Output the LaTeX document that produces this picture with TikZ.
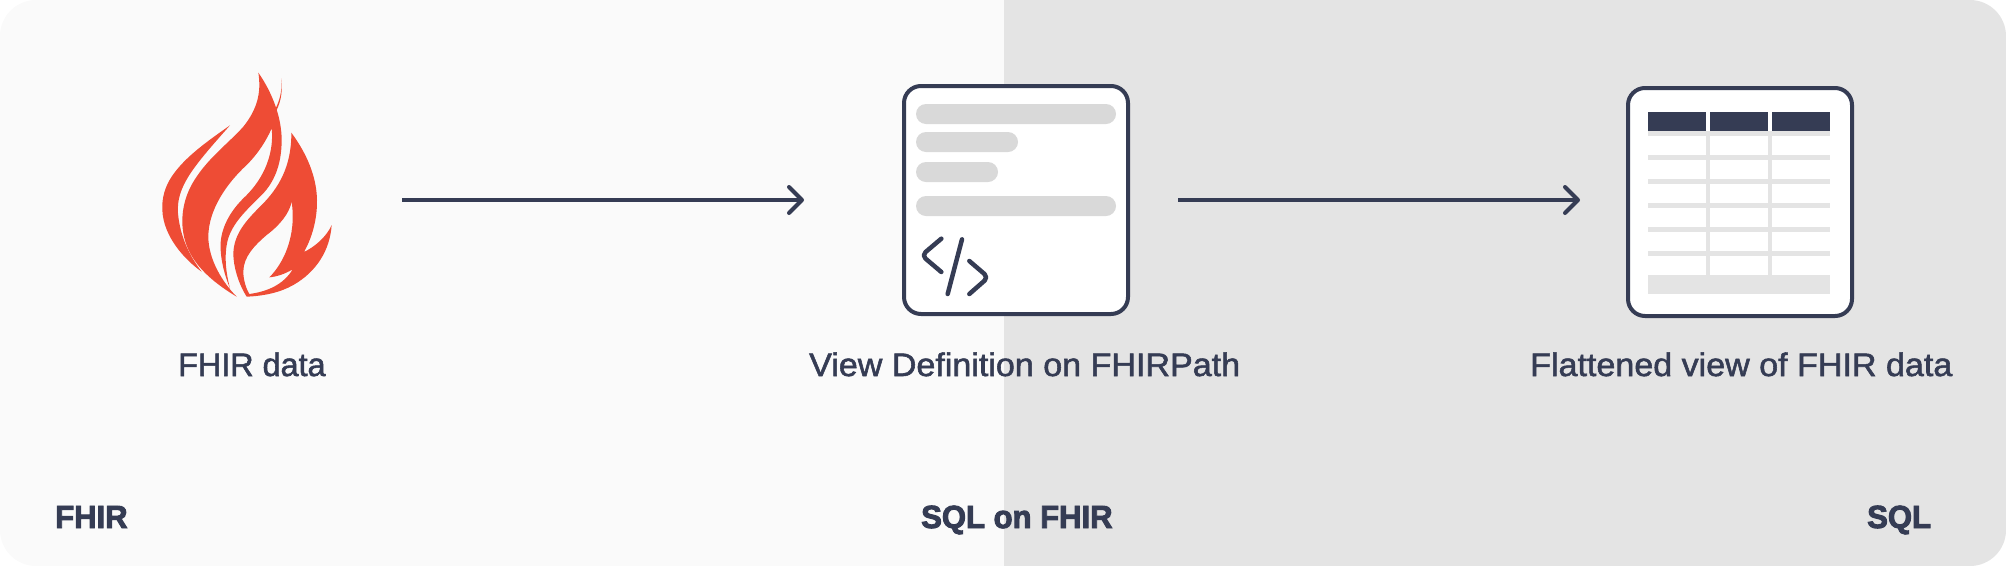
\documentclass[tikz,border=0pt]{standalone}
\usepackage{fontspec}
\usetikzlibrary{arrows.meta}
\setmainfont{Liberation Sans}
\newfontfamily\labfont[FakeBold=1.7,FakeStretch=1.048]{Liberation Sans}
\newfontfamily\labfontshort[FakeBold=1.7,FakeStretch=0.995]{Liberation Sans}
\newfontfamily\headfont[FakeBold=3,FakeStretch=0.97]{Liberation Sans Bold}
\definecolor{ink}{HTML}{353C54}
\definecolor{flame}{HTML}{EE4C35}
\definecolor{leftbg}{HTML}{FAFAFA}
\definecolor{rightbg}{HTML}{E4E4E4}
\definecolor{barc}{HTML}{D9D9D9}
\definecolor{rule}{HTML}{E4E4E4}
\tikzset{
  iconbox/.style={draw=ink,fill=white,line width=4pt,rounded corners=17pt,inner sep=0pt,minimum width=224pt,minimum height=228pt},
  flow/.style={draw=ink,line width=4pt,-{Straight Barb[length=13pt,width=26pt,round]}},
  lab/.style={anchor=base west,inner sep=0pt,text=ink,font=\labfont\fontsize{32.5}{36}\selectfont},
  labshort/.style={lab,font=\labfontshort\fontsize{32.5}{36}\selectfont},
  head/.style={anchor=base west,inner sep=0pt,text=ink,font=\headfont\fontsize{32}{36}\selectfont},
  bar/.style={fill=barc,rounded corners=10pt},
  codeline/.style={draw=ink,line width=4.5pt,line cap=round,line join=round},
}
\begin{document}
\begin{tikzpicture}[x=1pt,y=-1pt]
\useasboundingbox (0,0) rectangle (2006,566);
\begin{scope}
  \clip[rounded corners=36pt] (0,0) rectangle (2006,566);
  \fill[leftbg] (0,0) rectangle (1004,566);
  \fill[rightbg] (1004,0) rectangle (2006,566);
\end{scope}
% flame
\node[inner sep=0pt,minimum width=170pt,minimum height=230pt] (flamenode) at (247,200) {};
\begin{scope}[shift={(130,50)},x=0.33333pt,y=-0.33333pt]
  % left tongue
  \fill[flame] (300,226) .. controls (235,272) and (165,320) .. (125,380)
    .. controls (105,410) and (95,445) .. (97,480)
    .. controls (100,560) and (165,630) .. (215,665)
    .. controls (180,620) and (150,560) .. (144,490)
    .. controls (138,410) and (190,350) .. (300,226) -- cycle;
  % main body with thin strip
  \fill[flame] (385,68) .. controls (395,130) and (380,180) .. (340,230)
    .. controls (300,275) and (240,320) .. (200,380)
    .. controls (165,430) and (150,490) .. (160,550)
    .. controls (172,620) and (220,680) .. (320,740)
    .. controls (280,700) and (235,630) .. (235,560)
    .. controls (235,480) and (290,400) .. (350,345)
    .. controls (385,310) and (410,270) .. (425,235)
    .. controls (432,300) and (410,380) .. (340,445)
    .. controls (290,495) and (268,550) .. (272,600)
    .. controls (275,650) and (290,690) .. (300,715)
    .. controls (288,670) and (282,620) .. (292,575)
    .. controls (305,520) and (350,480) .. (395,435)
    .. controls (440,390) and (455,330) .. (455,270)
    .. controls (455,200) and (425,125) .. (385,68) -- cycle;
  % wisp
  \fill[flame] (453,85) .. controls (460,130) and (450,165) .. (432,195)
    .. controls (425,210) and (422,220) .. (420,226)
    .. controls (422,210) and (425,200) .. (432,185)
    .. controls (448,155) and (458,125) .. (453,85) -- cycle;
  % right tongue with inner hole
  \fill[flame,even odd rule] (484,248) .. controls (530,310) and (560,380) .. (561,450)
    .. controls (562,510) and (545,565) .. (522,606)
    .. controls (555,590) and (590,560) .. (605,525)
    .. controls (600,600) and (560,665) .. (490,705)
    .. controls (450,728) and (400,738) .. (350,740)
    .. controls (325,700) and (310,650) .. (310,610)
    .. controls (312,550) and (350,510) .. (395,465)
    .. controls (445,415) and (485,350) .. (484,248) -- cycle
    (485,455) .. controls (478,490) and (450,525) .. (410,555)
    .. controls (375,585) and (340,620) .. (340,665)
    .. controls (340,690) and (348,715) .. (358,732)
    .. controls (410,725) and (460,705) .. (488,658)
    .. controls (465,672) and (440,680) .. (418,682)
    .. controls (460,640) and (500,560) .. (485,455) -- cycle;
\end{scope}
% view definition box
\node[iconbox] (viewbox) at (1016,200) {};
\fill[bar] (916,104) rectangle (1116,124);
\fill[bar] (916,132) rectangle (1018,152);
\fill[bar] (916,162) rectangle (998,182);
\fill[bar] (916,196) rectangle (1116,216);
\begin{scope}[shift={(880,70)},x=0.33333pt,y=-0.33333pt]
  \draw[codeline,rounded corners=5pt] (184,506) -- (125,556) -- (184,606);
  \draw[codeline] (246,508) -- (203,672);
  \draw[codeline,rounded corners=5pt] (268,573) -- (325,622) -- (268,672);
\end{scope}
% table box
\node[iconbox] (tablebox) at (1740,202) {};
\fill[rule] (1648,131) rectangle (1830,136);
\fill[rule] (1648,155.3) rectangle (1830,160);
\fill[rule] (1648,179.3) rectangle (1830,184);
\fill[rule] (1648,203.3) rectangle (1830,208);
\fill[rule] (1648,227.3) rectangle (1830,232);
\fill[rule] (1648,251.3) rectangle (1830,256);
\fill[rule] (1648,275.3) rectangle (1830,294);
\fill[rule] (1706,131) rectangle (1710,276);
\fill[rule] (1768,131) rectangle (1772,276);
\fill[ink] (1648,112) rectangle (1706,131.3);
\fill[ink] (1710,112) rectangle (1768,131.3);
\fill[ink] (1772,112) rectangle (1830,131.3);
% connectors
\draw[flow,shorten <=70pt,shorten >=98pt] (flamenode.east) -- (viewbox.west);
\draw[flow,shorten <=48pt,shorten >=46pt] (viewbox.east) -- (tablebox.west |- viewbox.east);
% labels
\node[labshort] (l1) at (178,376) {FHIR data};
\node[lab] (l2) at (809,376) {View Definition on FHIRPath};
\node[lab] (l3) at (1530,376) {Flattened view of FHIR data};
\node[head] (h1) at (55,528) {FHIR};
\node[head] (h2) at (921,528) {SQL on FHIR};
\node[head] (h3) at (1867,528) {SQL};
\end{tikzpicture}
\end{document}
